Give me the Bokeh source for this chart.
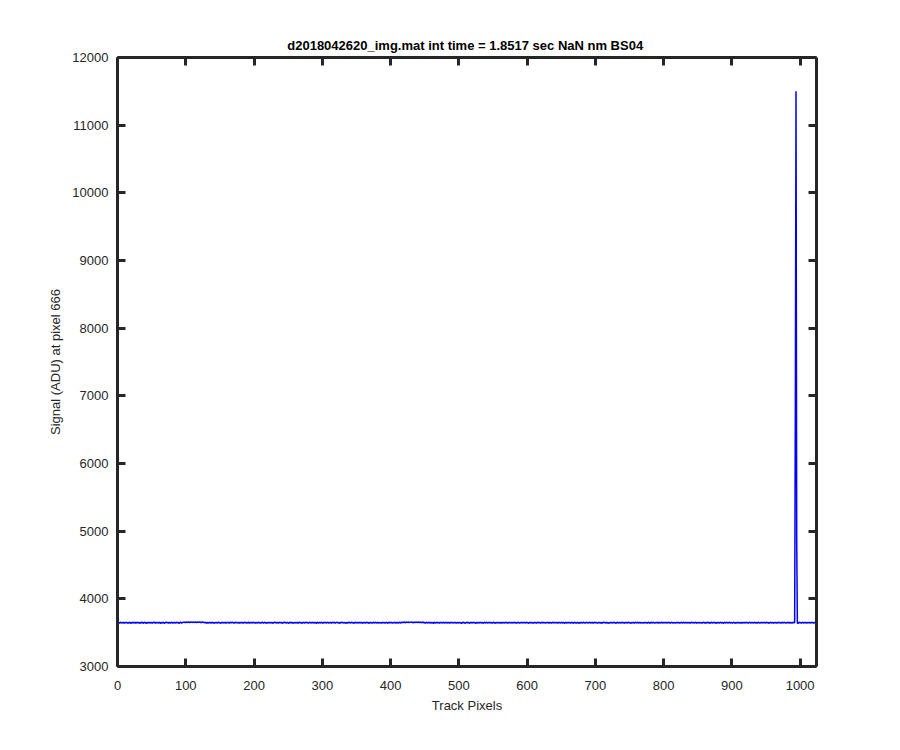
from bokeh.plotting import figure
from bokeh.models import Range1d, LinearAxis, FixedTicker, Title
from bokeh.embed import file_html
from bokeh.resources import INLINE

title_text = "d2018042620_img.mat int time = 1.8517 sec  NaN nm BS04"
x_label = "Track Pixels"
y_label = "Signal (ADU) at pixel 666"
x_ticks = [0, 100, 200, 300, 400, 500, 600, 700, 800, 900, 1000]
y_ticks = [3000, 4000, 5000, 6000, 7000, 8000, 9000, 10000, 11000, 12000]

signal = [
    3646, 3652, 3640, 3649, 3655, 3641, 3650, 3644, 3654, 3638, 3649, 3645, 3656, 3641, 3651, 3639,
    3648, 3655, 3643, 3637, 3652, 3645, 3657, 3641, 3649, 3653, 3640, 3646, 3655, 3643, 3651, 3638,
    3653, 3641, 3649, 3656, 3645, 3639, 3651, 3654, 3643, 3649, 3637, 3653, 3645, 3655, 3641, 3651,
    3643, 3654, 3639, 3649, 3653, 3645, 3656, 3638, 3651, 3643, 3654, 3641, 3649, 3653, 3639, 3646,
    3651, 3641, 3655, 3646, 3639, 3653, 3649, 3656, 3643, 3651, 3638, 3654, 3646, 3641, 3653, 3649,
    3639, 3651, 3645, 3655, 3641, 3649, 3654, 3643, 3653, 3639, 3646, 3656, 3649, 3641, 3651, 3654,
    3652, 3656, 3649, 3658, 3654, 3650, 3657, 3652, 3659, 3648, 3656, 3652, 3658, 3650, 3654, 3657,
    3650, 3658, 3654, 3648, 3657, 3652, 3656, 3659, 3650, 3654, 3648, 3657, 3652, 3656, 3646, 3654,
    3643, 3651, 3639, 3654, 3646, 3641, 3653, 3649, 3638, 3651, 3655, 3643, 3649, 3639, 3653, 3645,
    3654, 3641, 3649, 3656, 3643, 3651, 3639, 3646, 3654, 3649, 3641, 3653, 3645, 3655, 3639, 3649,
    3651, 3643, 3654, 3639, 3649, 3653, 3641, 3656, 3645, 3651, 3638, 3649, 3654, 3643, 3653, 3641,
    3645, 3655, 3639, 3651, 3643, 3654, 3649, 3638, 3653, 3645, 3656, 3641, 3651, 3643, 3649, 3654,
    3639, 3651, 3645, 3654, 3641, 3649, 3655, 3643, 3651, 3639, 3653, 3645, 3641, 3654, 3649, 3643,
    3653, 3639, 3649, 3656, 3645, 3641, 3651, 3654, 3643, 3649, 3638, 3653, 3645, 3655, 3643, 3651,
    3641, 3654, 3645, 3639, 3653, 3649, 3655, 3641, 3651, 3645, 3654, 3639, 3649, 3653, 3643, 3651,
    3645, 3638, 3653, 3649, 3655, 3643, 3651, 3641, 3654, 3645, 3639, 3651, 3656, 3643, 3649, 3653,
    3639, 3649, 3643, 3654, 3641, 3651, 3645, 3655, 3639, 3649, 3653, 3643, 3651, 3638, 3645, 3654,
    3649, 3641, 3653, 3645, 3656, 3643, 3651, 3639, 3649, 3654, 3645, 3641, 3653, 3649, 3643, 3655,
    3641, 3651, 3645, 3639, 3654, 3649, 3643, 3653, 3641, 3651, 3655, 3645, 3639, 3649, 3654, 3643,
    3653, 3643, 3649, 3655, 3641, 3651, 3645, 3654, 3639, 3649, 3653, 3643, 3656, 3645, 3641, 3651,
    3649, 3654, 3641, 3651, 3645, 3639, 3653, 3649, 3655, 3643, 3651, 3641, 3654, 3645, 3639, 3649,
    3643, 3653, 3645, 3656, 3641, 3649, 3654, 3643, 3651, 3639, 3645, 3655, 3649, 3641, 3653, 3645,
    3651, 3641, 3654, 3649, 3643, 3653, 3639, 3651, 3645, 3655, 3641, 3649, 3654, 3643, 3651, 3638,
    3645, 3654, 3643, 3651, 3639, 3649, 3655, 3645, 3641, 3653, 3649, 3643, 3654, 3641, 3651, 3645,
    3649, 3639, 3653, 3645, 3655, 3643, 3651, 3641, 3649, 3654, 3645, 3639, 3651, 3656, 3643, 3649,
    3654, 3645, 3641, 3651, 3643, 3653, 3649, 3639, 3654, 3645, 3651, 3641, 3655, 3649, 3643, 3653,
    3651, 3655, 3649, 3657, 3653, 3646, 3656, 3651, 3655, 3658, 3649, 3653, 3656, 3651, 3657, 3654,
    3646, 3653, 3656, 3649, 3658, 3653, 3651, 3655, 3657, 3649, 3656, 3653, 3646, 3655, 3651, 3657,
    3643, 3651, 3639, 3649, 3654, 3645, 3641, 3653, 3649, 3643, 3655, 3641, 3651, 3645, 3639, 3654,
    3649, 3641, 3653, 3645, 3655, 3643, 3651, 3639, 3649, 3654, 3645, 3641, 3653, 3649, 3643, 3651,
    3645, 3654, 3641, 3651, 3643, 3653, 3639, 3649, 3655, 3643, 3651, 3645, 3641, 3654, 3649, 3639,
    3653, 3643, 3651, 3641, 3654, 3645, 3649, 3632, 3653, 3645, 3656, 3643, 3649, 3641, 3651, 3654,
    3643, 3653, 3645, 3639, 3651, 3654, 3641, 3649, 3653, 3643, 3655, 3645, 3639, 3651, 3649, 3643,
    3651, 3641, 3654, 3649, 3643, 3653, 3645, 3639, 3651, 3655, 3643, 3649, 3653, 3641, 3645, 3654,
    3649, 3643, 3653, 3645, 3641, 3651, 3655, 3643, 3649, 3639, 3653, 3645, 3654, 3643, 3651, 3641,
    3645, 3654, 3639, 3651, 3645, 3653, 3641, 3649, 3655, 3643, 3651, 3639, 3649, 3654, 3645, 3641,
    3653, 3645, 3651, 3641, 3654, 3649, 3643, 3653, 3639, 3649, 3655, 3645, 3641, 3651, 3645, 3654,
    3643, 3651, 3645, 3655, 3641, 3649, 3653, 3643, 3651, 3639, 3645, 3654, 3649, 3643, 3653, 3641,
    3649, 3641, 3654, 3645, 3651, 3639, 3649, 3655, 3643, 3653, 3645, 3641, 3651, 3654, 3643, 3649,
    3654, 3645, 3641, 3651, 3643, 3653, 3649, 3639, 3654, 3645, 3651, 3641, 3649, 3655, 3643, 3651,
    3645, 3653, 3643, 3651, 3639, 3649, 3654, 3645, 3641, 3653, 3649, 3643, 3655, 3645, 3639, 3651,
    3649, 3641, 3653, 3645, 3655, 3643, 3651, 3641, 3649, 3654, 3645, 3639, 3651, 3655, 3643, 3649,
    3643, 3654, 3645, 3639, 3651, 3649, 3643, 3653, 3641, 3651, 3654, 3645, 3641, 3649, 3653, 3643,
    3651, 3643, 3649, 3655, 3641, 3651, 3645, 3654, 3639, 3649, 3653, 3643, 3655, 3645, 3641, 3651,
    3645, 3653, 3641, 3651, 3645, 3639, 3653, 3649, 3654, 3643, 3651, 3641, 3654, 3645, 3639, 3649,
    3643, 3651, 3645, 3655, 3641, 3649, 3654, 3643, 3651, 3639, 3645, 3654, 3649, 3641, 3653, 3645,
    3651, 3641, 3654, 3649, 3643, 3653, 3639, 3651, 3645, 3655, 3641, 3649, 3653, 3643, 3651, 3639,
    3645, 3654, 3643, 3651, 3639, 3649, 3655, 3645, 3641, 3653, 3649, 3643, 3654, 3641, 3651, 3645,
    3649, 3639, 3653, 3645, 3654, 3643, 3651, 3641, 3649, 3654, 3645, 3639, 3651, 3655, 3643, 3649,
    3653, 3645, 3641, 3651, 3643, 3653, 3649, 3639, 3654, 3645, 3651, 3641, 3655, 3649, 3643, 3653,
    3643, 3651, 3645, 3654, 3641, 3649, 3653, 3643, 3651, 3639, 3649, 3654, 3645, 3641, 3651, 3645,
    3649, 3641, 3653, 3645, 3655, 3643, 3651, 3639, 3649, 3654, 3645, 3641, 3653, 3649, 3643, 3651,
    3645, 3654, 3641, 3651, 3643, 3653, 3639, 3649, 3655, 3643, 3651, 3645, 3641, 3654, 3649, 3639,
    3653, 3643, 3651, 3641, 3654, 3645, 3649, 3639, 3653, 3645, 3656, 3643, 3649, 3641, 3651, 3654,
    3643, 3653, 3645, 3639, 3651, 3654, 3641, 3649, 3653, 3643, 3655, 3645, 3639, 3651, 3649, 3643,
    3651, 3641, 3654, 3649, 3643, 3653, 3645, 3639, 3651, 3655, 3643, 3649, 3653, 3641, 3645, 3654,
    3649, 3643, 3653, 3645, 3641, 3651, 3654, 3643, 3649, 3639, 3653, 3645, 3654, 3643, 3651, 3641,
    3645, 3654, 3639, 3651, 3645, 3653, 3641, 3649, 3655, 3643, 3651, 3639, 3649, 3654, 3645, 3641,
    3653, 3645, 3651, 3641, 3654, 3649, 3643, 3653, 3639, 3649, 3655, 3645, 3641, 3651, 3645, 3654,
    3643, 3651, 3645, 3654, 3641, 3649, 3653, 3643, 3651, 3639, 3645, 3654, 3649, 3643, 3653, 3641,
    3649, 3641, 3654, 3645, 3651, 3639, 3649, 3654, 3643, 3653, 3645, 3641, 3651, 3654, 3643, 3649,
    3654, 3645, 3641, 3651, 3643, 3653, 3649, 3639, 3654, 3645, 3651, 3641, 3649, 3654, 3643, 3651,
    6800, 11500, 4860, 3641, 3637, 3649, 3653, 3643, 3651, 3639, 3649, 3654, 3645, 3641, 3653, 3649,
    3643, 3651, 3641, 3653, 3645, 3654, 3641, 3649, 3653, 3643, 3651, 3639, 3649, 3654, 3645, 3643,
]
pixels = list(range(1, len(signal) + 1))

AX = "#262626"
FONT = "Liberation Sans"

p = figure(width=895, height=745, output_backend="svg", toolbar_location=None,
           x_range=Range1d(0, 1024), y_range=Range1d(3000, 12000),
           min_border_left=117, min_border_right=79, min_border_top=57, min_border_bottom=79,
           x_axis_location=None, y_axis_location=None)
p.background_fill_color = "white"
p.border_fill_color = "white"
p.outline_line_color = None
p.grid.visible = False

p.line(pixels, signal, line_color="#0000FF", line_width=1.5)

def style(ax, labels=True):
    ax.axis_line_color = AX
    ax.axis_line_width = 3
    ax.major_tick_line_color = AX
    ax.major_tick_line_width = 3
    ax.major_tick_in = 8
    ax.major_tick_out = 0
    ax.minor_tick_line_color = None
    ax.major_label_text_font = FONT
    ax.major_label_text_font_size = "13px"
    ax.major_label_text_color = AX
    ax.axis_label_text_font = FONT
    ax.axis_label_text_font_size = "13px"
    ax.axis_label_text_color = AX
    ax.axis_label_text_font_style = "normal"
    if not labels:
        ax.major_label_text_font_size = "0px"
        ax.major_label_text_color = None

xb = LinearAxis(ticker=FixedTicker(ticks=x_ticks), axis_label=x_label)
style(xb)
xb.major_label_standoff = 14
xb.axis_label_standoff = 5
p.add_layout(xb, "below")

xt = LinearAxis(ticker=FixedTicker(ticks=x_ticks))
style(xt, labels=False)
p.add_layout(xt, "above")

yl = LinearAxis(ticker=FixedTicker(ticks=y_ticks), axis_label=y_label)
style(yl)
yl.major_label_standoff = 9
yl.axis_label_standoff = 6
p.add_layout(yl, "left")

yr = LinearAxis(ticker=FixedTicker(ticks=y_ticks))
style(yr, labels=False)
p.add_layout(yr, "right")

t = Title(text=title_text, align="center", text_font=FONT, text_font_size="13px",
          text_font_style="bold", text_color="black", standoff=10)
p.add_layout(t, "above")

open("out.html", "w").write(file_html(p, INLINE))
